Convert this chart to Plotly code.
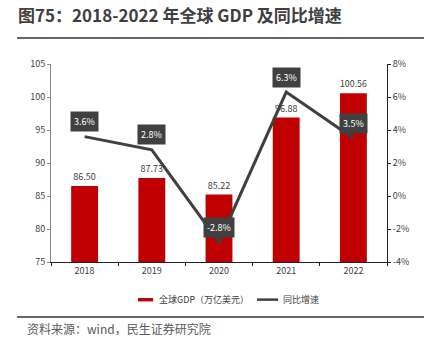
import plotly.graph_objects as go

# Global GDP (trillion USD) and its year-on-year growth
years = ["2018", "2019", "2020", "2021", "2022"]
gdp = [86.50, 87.73, 85.22, 96.88, 100.56]
growth = [3.6, 2.8, -2.8, 6.3, 3.5]

left_ticks = [75, 80, 85, 90, 95, 100, 105]
right_ticks = [-4, -2, 0, 2, 4, 6, 8]
right_tick_text = [f"{v}%" for v in right_ticks]

title_text = "图75：2018-2022 年全球 GDP 及同比增速"
source_text = "资料来源：wind，民生证券研究院"
legend_gdp = "全球GDP（万亿美元）"
legend_growth = "同比增速"

FONT = "Noto Sans CJK SC, Microsoft YaHei, sans-serif"
RED = "#C00000"
DARK = "#404040"
TXT = "#404040"

fig = go.Figure()

fig.add_trace(go.Bar(
    x=years, y=gdp, width=0.4,
    marker=dict(color=RED, line=dict(width=0)),
    text=[f"{v:.2f}" for v in gdp], textposition="outside",
    textfont=dict(size=9, color=TXT, family=FONT),
    cliponaxis=False, showlegend=False, name=legend_gdp,
))

fig.add_trace(go.Scatter(
    x=years, y=growth, yaxis="y2", mode="lines",
    line=dict(color=DARK, width=3), showlegend=False, name=legend_growth,
))

# Boxed growth labels above each point (category index positions)
for i, g in enumerate(growth):
    fig.add_annotation(
        x=i, y=g, xref="x", yref="y2", text=f"{g}%", showarrow=False,
        yshift=15, bgcolor=DARK, font=dict(color="white", size=9, family=FONT),
        borderpad=3,
    )

fig.update_layout(
    width=446, height=342,
    margin=dict(l=51, r=59, t=64, b=80),
    paper_bgcolor="white", plot_bgcolor="white",
    font=dict(family=FONT, color=TXT, size=9),
    bargap=0.6,
    xaxis=dict(
        type="category", range=[-0.5, 4.5],
        showline=True, linecolor="#222", linewidth=1,
        ticks="outside", ticklen=3, tickcolor="#222", tickson="boundaries",
        tickfont=dict(size=9, color=TXT), showgrid=False,
    ),
    yaxis=dict(
        range=[75, 105], tickvals=left_ticks,
        showline=True, linecolor="#888", linewidth=1,
        ticks="outside", ticklen=3, tickcolor="#888",
        tickfont=dict(size=9, color=TXT), showgrid=False, zeroline=False,
    ),
    yaxis2=dict(
        range=[-4, 8], tickvals=right_ticks, ticktext=right_tick_text,
        overlaying="y", side="right",
        showline=True, linecolor="#222", linewidth=1,
        ticks="outside", ticklen=3, tickcolor="#222",
        tickfont=dict(size=9, color=TXT), showgrid=False, zeroline=False,
    ),
)

# Title, rules and source note
fig.add_annotation(
    xref="paper", yref="paper", x=-0.104, y=1.25, xanchor="left", yanchor="middle",
    text=f"<b>{title_text}</b>", showarrow=False,
    font=dict(size=17, color="#404040", family=FONT),
)
fig.add_shape(type="line", xref="paper", yref="paper",
              x0=-0.101, x1=1.11, y0=1.131, y1=1.131,
              line=dict(color="#666", width=2))
fig.add_shape(type="line", xref="paper", yref="paper",
              x0=-0.101, x1=1.11, y0=-0.278, y1=-0.278,
              line=dict(color="#666", width=2))
fig.add_annotation(
    xref="paper", yref="paper", x=-0.077, y=-0.338, xanchor="left", yanchor="middle",
    text=source_text, showarrow=False,
    font=dict(size=12, color="#595959", family=FONT),
)

# Legend: red swatch and dark line with labels
fig.add_shape(type="rect", xref="paper", yref="paper",
              x0=0.259, x1=0.304, y0=-0.182, y1=-0.199,
              fillcolor=RED, line=dict(width=0))
fig.add_annotation(
    xref="paper", yref="paper", x=0.314, y=-0.19, xanchor="left", yanchor="middle",
    text=legend_gdp, showarrow=False, font=dict(size=9, color=TXT, family=FONT),
)
fig.add_shape(type="line", xref="paper", yref="paper",
              x0=0.613, x1=0.676, y0=-0.19, y1=-0.19,
              line=dict(color=DARK, width=2.5))
fig.add_annotation(
    xref="paper", yref="paper", x=0.686, y=-0.19, xanchor="left", yanchor="middle",
    text=legend_growth, showarrow=False, font=dict(size=9, color=TXT, family=FONT),
)

fig.write_html("out.html")
